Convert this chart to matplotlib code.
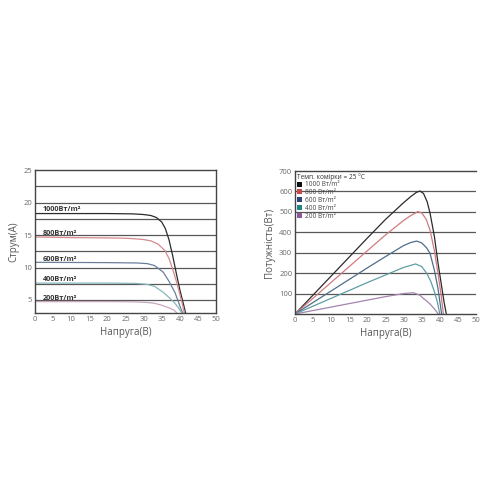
import matplotlib
matplotlib.use("Agg")
import matplotlib.pyplot as plt
from matplotlib.patches import Patch

plt.rcParams['font.family'] = ['Open Sans', 'DejaVu Sans']

# ---------------- data ----------------
irradiance_labels = ["1000Вт/m²", "800Вт/m²", "600Вт/m²", "400Вт/m²", "200Вт/m²"]
legend_labels = ["1000 Вт/m²", "800 Вт/m²", "600 Вт/m²", "400 Вт/m²", "200 Вт/m²"]
legend_title = "Темп. комірки = 25 °C"

# I-V curves (voltage V, current A)
iv_v_1000 = [0, 10, 20, 27, 30, 32, 33.5, 35, 36, 37, 38, 39, 40, 41, 41.8]
iv_i_1000 = [18.3, 18.3, 18.3, 18.25, 18.15, 18.0, 17.7, 17.0, 16.0, 14.3, 11.9, 9.2, 6.6, 4.4, 2.5]
iv_v_800 = [0, 10, 20, 25, 28, 30, 32, 34, 35.9, 37, 38, 39.2, 40, 40.6, 41.2, 41.8]
iv_i_800 = [14.7, 14.6, 14.55, 14.5, 14.4, 14.3, 14.1, 13.6, 12.6, 11.4, 9.8, 7.6, 5.9, 4.6, 3.2, 2.0]
iv_v_600 = [0, 20, 28, 31, 33, 35.4, 37, 38.7, 39.5, 40.2, 40.9, 41.4]
iv_i_600 = [10.8, 10.75, 10.7, 10.6, 10.3, 9.3, 7.9, 6.1, 4.9, 3.8, 2.9, 2.0]
iv_v_400 = [0, 20, 28, 31, 33, 35.4, 37, 38.5, 39.5, 40.6, 41.2]
iv_i_400 = [7.6, 7.6, 7.55, 7.4, 7.1, 6.2, 5.4, 4.6, 3.9, 3.0, 2.4]
iv_v_200 = [0, 20, 25, 28, 31, 33, 35, 37, 38.5, 39.2, 40]
iv_i_200 = [4.75, 4.75, 4.74, 4.7, 4.62, 4.5, 4.2, 3.8, 3.4, 3.0, 2.5]

# P-V curves (voltage V, power W)
pv_v_1000 = [0, 10, 20, 25, 30, 32, 33.5, 34.5, 35.5, 36.5, 37.3, 38.5, 39.5, 40.5, 41.2, 41.8]
pv_p_1000 = [0, 186, 372, 463, 545, 575, 595, 602, 590, 550, 494, 380, 250, 136, 56, 0]
pv_v_800 = [0, 10, 20, 25, 30, 32, 33.9, 35, 36.2, 37.3, 38.5, 39.5, 40.3, 41]
pv_p_800 = [0, 155, 310, 387, 458, 482, 501, 495, 465, 411, 310, 200, 100, 0]
pv_v_600 = [0, 10, 20, 25, 30, 32, 33.6, 35, 36.3, 37.3, 38.5, 39.5, 40.5]
pv_p_600 = [0, 113, 226, 281, 335, 350, 357, 348, 325, 297, 215, 125, 0]
pv_v_400 = [0, 10, 20, 25, 30, 33.3, 35, 36.4, 37.5, 38.5, 39.3, 40]
pv_p_400 = [0, 77, 154, 191, 228, 245, 232, 199, 160, 110, 60, 0]
pv_v_200 = [0, 10, 20, 25, 30, 32.7, 34.5, 35.4, 36.5, 37.5, 38.5, 39.6]
pv_p_200 = [0, 34, 68, 85, 100, 104, 92, 77, 62, 45, 25, 0]

x_ticks = [0, 5, 10, 15, 20, 25, 30, 35, 40, 45, 50]
iv_y_ticks = [5, 10, 15, 20, 25]
iv_grid = [5, 7.5, 10, 12.5, 15, 17.5, 20, 22.5]
pv_y_ticks = [100, 200, 300, 400, 500, 600, 700]
pv_grid = [100, 200, 300, 400, 500, 600]

iv_colors = ["#2b2b2b", "#d58a8e", "#6a7f9c", "#86b6bc", "#c8a6bc"]
pv_colors = ["#2b2b2b", "#d07a80", "#4f6d8a", "#5e9ea3", "#a585ac"]
legend_colors = ["#111111", "#c8474c", "#2d4578", "#1f8585", "#8c5a9c"]

iv_v = [iv_v_1000, iv_v_800, iv_v_600, iv_v_400, iv_v_200]
iv_i = [iv_i_1000, iv_i_800, iv_i_600, iv_i_400, iv_i_200]
pv_v = [pv_v_1000, pv_v_800, pv_v_600, pv_v_400, pv_v_200]
pv_p = [pv_p_1000, pv_p_800, pv_p_600, pv_p_400, pv_p_200]
label_y = [18.95, 15.25, 11.25, 8.15, 5.3]

# ---------------- figure ----------------
fig = plt.figure(figsize=(5, 5), dpi=100)
fig.patch.set_facecolor("white")

tick_color = "#6a6a6a"
label_color = "#555555"
grid_color = "#585858"

# Left: I-V
ax1 = fig.add_axes([0.07, 0.374, 0.362, 0.286])
for g in iv_grid:
    ax1.axhline(g, color=grid_color, lw=0.9, zorder=1)
for v, i, c in zip(iv_v, iv_i, iv_colors):
    ax1.plot(v, i, color=c, lw=0.9, zorder=2)
for lab, y in zip(irradiance_labels, label_y):
    ax1.text(2.2, y, lab, fontsize=5.2, fontweight="bold", color="#333333",
             va="center", ha="left", zorder=3)
ax1.set_xlim(0, 50)
ax1.set_ylim(3, 25)
ax1.set_xticks(x_ticks)
ax1.set_yticks(iv_y_ticks)
ax1.tick_params(length=0, labelsize=5.5, colors=tick_color, pad=2)
for s in ax1.spines.values():
    s.set_color("#444444")
    s.set_linewidth(1.0)
ax1.set_xlabel("Напруга(В)", fontsize=7, color=label_color, labelpad=3)
ax1.set_ylabel("Струм(А)", fontsize=7, color=label_color, labelpad=3)

# Right: P-V
ax2 = fig.add_axes([0.59, 0.372, 0.362, 0.286])
for g in pv_grid:
    ax2.axhline(g, color=grid_color, lw=0.9, zorder=1)
for v, p, c in zip(pv_v, pv_p, pv_colors):
    ax2.plot(v, p, color=c, lw=0.9, zorder=2)
ax2.set_xlim(0, 50)
ax2.set_ylim(0, 700)
ax2.set_xticks(x_ticks)
ax2.set_yticks(pv_y_ticks)
ax2.tick_params(length=0, labelsize=5.5, colors=tick_color, pad=2)
ax2.spines["right"].set_visible(False)
for s in ["left", "bottom", "top"]:
    ax2.spines[s].set_color("#444444")
    ax2.spines[s].set_linewidth(1.0)
ax2.set_xlabel("Напруга(В)", fontsize=7, color=label_color, labelpad=3)
ax2.set_ylabel("Потужність(Вт)", fontsize=7, color=label_color, labelpad=3)

handles = [Patch(facecolor=c, edgecolor="none") for c in legend_colors]
leg = ax2.legend(handles, legend_labels, title=legend_title, loc="upper left",
                 fontsize=4.7, title_fontsize=4.7, frameon=False,
                 handlelength=0.8, handleheight=0.8, handletextpad=0.4,
                 labelspacing=0.12, borderaxespad=0.15, borderpad=0.15,
                 alignment="left")
for t in leg.get_texts():
    t.set_color("#444444")
leg.get_title().set_color("#333333")

fig.savefig("out.png", dpi=100, facecolor="white")
